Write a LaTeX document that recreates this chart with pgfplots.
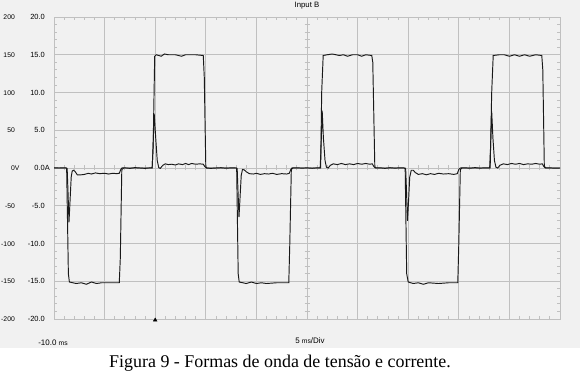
\documentclass[border=0pt]{standalone}
\usepackage{pgfplots}
\pgfplotsset{compat=1.18}
\usepackage{fontspec}
\setmainfont{Liberation Serif}
\newfontfamily\ssf{Liberation Sans}
\definecolor{bgc}{RGB}{241,241,241}
\definecolor{gridc}{RGB}{192,192,192}
\definecolor{linec}{RGB}{25,25,25}
\newcommand{\yl}[2]{\makebox[10bp][r]{\ssf\fontsize{6.8}{7}\selectfont #1}\makebox[30bp][r]{\ssf\fontsize{7.5}{8}\selectfont #2}}
\pgfplotstableread{
t v
-10 0
-8.75 0
-8.58 -140
-8.48 -151
-7.8 -153
-7.3 -152
-6.8 -154
-6.3 -151
-5.8 -153
-5.3 -152
-4.6 -152
-4.0 -152
-3.55 -152
-3.45 -120
-3.3 -2
-3.1 0
-0.3 0
-0.2 30
-0.05 148
0.1 150
0.6 148
0.9 151
1.3 150
2.0 150
2.6 148
3.0 150
4.0 150
4.75 149
4.85 120
5.0 2
5.1 0
8.05 0
8.2 -140
8.3 -151
9.0 -153
9.5 -151
10.0 -153
10.5 -152
11.0 -153
12.0 -152
13.2 -152
13.3 -100
13.45 -2
13.6 0
16.35 0
16.45 100
16.6 149
17.0 150
17.5 151
18.2 149
18.6 150
19.0 148
19.5 150
20.0 150
20.4 148
20.8 150
21.4 149
21.5 140
21.7 2
21.8 0
24.7 0
24.85 -140
25.0 -151
25.5 -153
26.0 -152
26.5 -154
27.0 -152
28.0 -153
29.0 -152
29.9 -152
30.0 -100
30.15 -2
30.3 0
33.1 0
33.25 100
33.4 149
34.0 150
34.5 150
35.0 148
35.5 150
36.0 148
36.5 150
37.0 148
37.6 150
38.2 149
38.3 130
38.45 2
38.6 0
40 0
}\volt
\pgfplotstableread{
t i
-10 0.02
-9.5 0.0
-9.0 0.03
-8.8 0.0
-8.7 -0.1
-8.62 -3.0
-8.52 -7.2
-8.42 -4.5
-8.3 -1.2
-8.2 -0.4
-8.05 -0.3
-7.9 -0.5
-7.7 -0.9
-7.3 -0.9
-7.0 -0.85
-6.6 -0.7
-6.3 -0.8
-5.9 -0.65
-5.5 -0.75
-5.0 -0.7
-4.6 -0.8
-4.2 -0.7
-3.8 -0.75
-3.55 -0.7
-3.4 -0.2
-3.3 0.0
-3.0 0.02
-2.5 -0.05
-2.0 0.05
-1.5 0.0
-1.0 -0.05
-0.5 0.02
-0.3 0.0
-0.22 2.5
-0.1 7.2
0.05 4.0
0.2 1.0
0.35 0.05
0.5 -0.05
0.75 0.35
1.0 0.55
1.3 0.45
1.6 0.5
2.0 0.4
2.3 0.55
2.7 0.45
3.0 0.6
3.3 0.45
3.6 0.6
4.0 0.5
4.4 0.55
4.75 0.5
4.9 0.2
5.05 0.0
5.5 -0.05
6.0 0.0
6.5 0.04
7.0 -0.03
7.5 0.02
8.0 0.0
8.1 -0.1
8.18 -3.0
8.28 -6.5
8.38 -4.0
8.5 -1.0
8.62 -0.2
8.8 -0.25
9.0 -0.5
9.3 -0.75
9.7 -0.8
10.0 -0.7
10.4 -0.85
10.8 -0.75
11.2 -0.8
11.6 -0.7
12.0 -0.85
12.5 -0.75
13.0 -0.8
13.25 -0.7
13.4 -0.2
13.5 0.0
14.0 0.03
14.5 -0.02
15.0 0.02
15.5 -0.04
16.0 0.02
16.3 0.0
16.38 2.5
16.5 7.6
16.62 4.0
16.78 1.0
16.92 0.1
17.1 0.0
17.3 0.35
17.6 0.55
18.0 0.45
18.4 0.6
18.8 0.45
19.2 0.55
19.6 0.45
20.0 0.6
20.4 0.5
20.8 0.6
21.2 0.5
21.45 0.55
21.6 0.2
21.75 0.0
22.2 0.03
22.7 -0.05
23.2 0.04
23.7 -0.02
24.2 0.03
24.6 0.0
24.75 -0.1
24.83 -3.0
24.93 -7.0
25.03 -4.5
25.15 -1.2
25.3 -0.3
25.5 -0.3
25.7 -0.6
26.0 -0.85
26.4 -0.75
26.8 -0.9
27.2 -0.75
27.6 -0.85
28.0 -0.7
28.5 -0.8
29.0 -0.75
29.5 -0.85
29.85 -0.75
30.0 -0.2
30.15 0.0
30.6 0.03
31.1 -0.03
31.6 0.05
32.1 -0.02
32.6 0.03
33.05 0.0
33.13 2.5
33.25 7.5
33.37 4.0
33.52 1.0
33.67 0.1
33.85 0.0
34.05 0.35
34.4 0.55
34.8 0.45
35.2 0.6
35.6 0.5
36.0 0.6
36.4 0.45
36.8 0.55
37.2 0.5
37.6 0.6
38.0 0.5
38.25 0.55
38.4 0.2
38.55 0.0
39.0 0.02
39.5 -0.03
40.0 0.0
}\curr
\begin{document}
\begin{tikzpicture}
\useasboundingbox (0,0) rectangle (580bp,376bp);
\fill[white] (0,0) rectangle (580bp,376bp);
\fill[bgc] (0,28bp) rectangle (580bp,376bp);
% main grid axis (voltage)
\begin{axis}[
  at={(54bp,57bp)}, anchor=south west,
  scale only axis, width=506bp, height=302bp,
  xmin=-10, xmax=40, ymin=-200, ymax=200,
  xtick={-10,-5,...,40}, ytick={-200,-150,...,200},
  xticklabels={},
  yticklabels={\yl{-200}{-20.0},\yl{-150}{-15.0},\yl{-100}{-10.0},\yl{-50}{-5.0},\yl{0\rlap{V}}{0.0\rlap{A}},\yl{50}{5.0},\yl{100}{10.0},\yl{150}{15.0},\yl{200}{20.0}},
  yticklabel style={anchor=east, inner sep=0pt, xshift=-9bp},
  minor x tick num=4, minor y tick num=4,
  tick align=inside, major tick length=0pt, minor tick length=3bp,
  minor tick style={gridc, line width=0.8bp},
  grid=major, major grid style={gridc, line width=0.9bp},
  axis line style={gridc, line width=0.9bp},
  clip=false,
]
\addplot[only marks, mark=triangle*, mark size=2.2bp, black] coordinates {(0,-201.5)};
\end{axis}
% centre axes with ticks
\begin{axis}[
  at={(54bp,57bp)}, anchor=south west,
  scale only axis, width=506bp, height=302bp,
  xmin=-25, xmax=25, ymin=-200, ymax=200,
  axis lines=middle, axis line style={-, gridc, line width=0.9bp},
  xtick distance=1, ytick distance=10,
  xticklabels={}, yticklabels={},
  tick align=center, major tick length=5bp,
  tick style={gridc, line width=0.8bp},
]
\end{axis}
% current
\begin{axis}[
  at={(54bp,57bp)}, anchor=south west,
  scale only axis, width=506bp, height=302bp,
  xmin=-10, xmax=40, ymin=-20, ymax=20,
  hide axis,
]
\addplot[linec, line width=0.95bp] table[x=t, y=i] {\curr};
\end{axis}
% voltage
\begin{axis}[
  at={(54bp,57bp)}, anchor=south west,
  scale only axis, width=506bp, height=302bp,
  xmin=-10, xmax=40, ymin=-200, ymax=200,
  hide axis,
]
\addplot[linec, line width=0.95bp] table[x=t, y=v] {\volt};
\end{axis}
\node[font=\ssf\fontsize{7.8}{9}\selectfont] at (307bp,370bp) {Input B};
\node[font=\ssf\fontsize{8}{9}\selectfont] at (310bp,35bp) {5 {\fontsize{6.8}{7}\selectfont ms}/Div};
\node[font=\ssf\fontsize{8}{9}\selectfont] at (53bp,33bp) {-10.0 {\fontsize{6.8}{7}\selectfont ms}};
\node[font=\fontsize{18}{20}\selectfont] at (280bp,13bp) {Figura 9 - Formas de onda de tensão e corrente.};
\end{tikzpicture}
\end{document}
